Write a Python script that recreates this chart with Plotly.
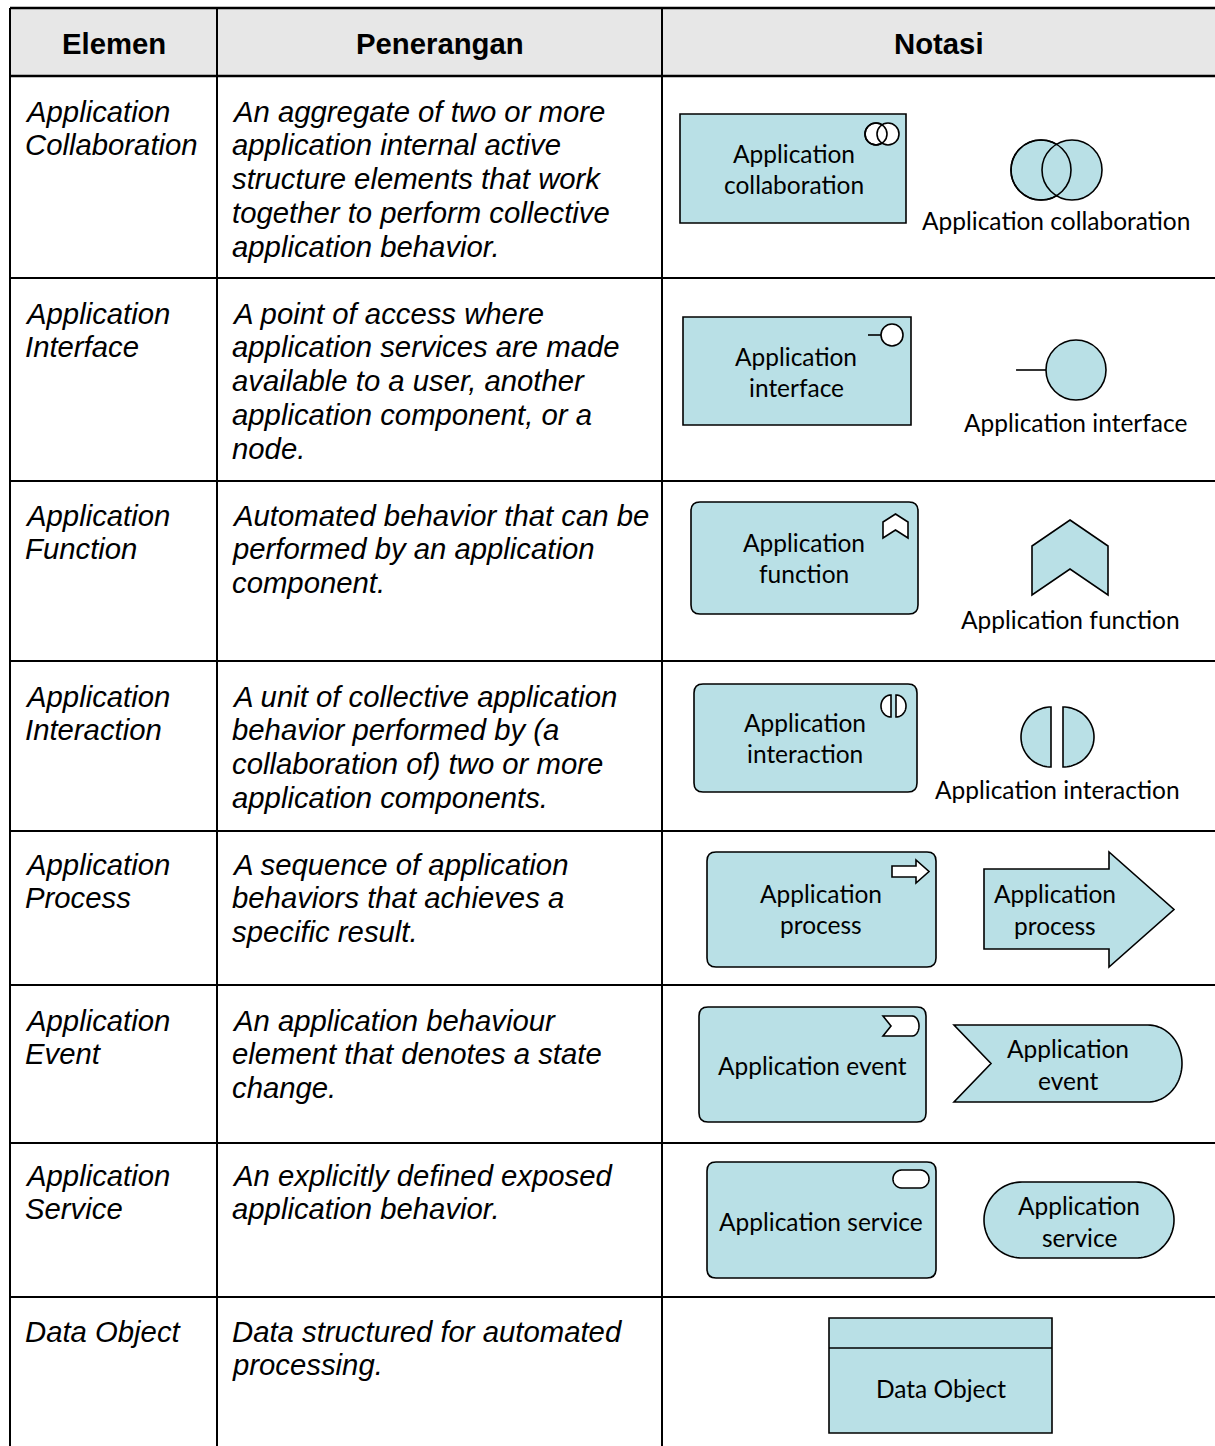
import numpy as np
import plotly.graph_objects as go

W, H = 1215, 1446

# ---------------- data (texts of the table) ----------------
HEADERS = ["Elemen", "Penerangan", "Notasi"]
ELEMENTS = [
    ["Application", "Collaboration"],
    ["Application", "Interface"],
    ["Application", "Function"],
    ["Application", "Interaction"],
    ["Application", "Process"],
    ["Application", "Event"],
    ["Application", "Service"],
    ["Data Object"],
]
DESCRIPTIONS = [
    ["An aggregate of two or more", "application internal active",
     "structure elements that work", "together to perform collective",
     "application behavior."],
    ["A point of access where", "application services are made",
     "available to a user, another", "application component, or a", "node."],
    ["Automated behavior that can be", "performed by an application", "component."],
    ["A unit of collective application", "behavior performed by (a",
     "collaboration of) two or more", "application components."],
    ["A sequence of application", "behaviors that achieves a", "specific result."],
    ["An application behaviour", "element that denotes a state", "change."],
    ["An explicitly defined exposed", "application behavior."],
    ["Data structured for automated", "processing."],
]
BOX_LABELS = [
    ["Application", "collaboration"],
    ["Application", "interface"],
    ["Application", "function"],
    ["Application", "interaction"],
    ["Application", "process"],
    ["Application event"],
    ["Application service"],
    ["Data Object"],
]
SYMBOL_LABELS = [
    ["Application collaboration"],
    ["Application interface"],
    ["Application function"],
    ["Application interaction"],
    ["Application", "process"],
    ["Application", "event"],
    ["Application", "service"],
]

# ---------------- layout constants ----------------
ROW_Y = [8, 76, 278, 481, 661, 831, 985, 1143, 1297]
COL_X = [10, 217, 662, W]
TEXT_TOP = [111, 313, 515, 696, 864, 1020, 1175, 1331]
LINE_H = 33.8
FILL = "#b9e0e6"
HEAD_BG = "#e7e7e7"
TABLE_FONT = "Liberation Sans, Arial, sans-serif"
NOTE_FONT = "Lato, Carlito, sans-serif"
TS = 29.3  # table font size

shapes = []
annotations = []


def fmt(pts):
    return "M " + " L ".join(f"{x:.2f},{y:.2f}" for x, y in pts) + " Z"


def poly(pts, fill=FILL, lw=1.6):
    shapes.append(dict(type="path", path=fmt(pts), xref="x", yref="y",
                       fillcolor=fill, line=dict(color="black", width=lw), layer="above"))


def arc(cx, cy, rx, ry, a0, a1, n=48):
    a = np.radians(np.linspace(a0, a1, n))
    return list(zip(cx + rx * np.cos(a), cy + ry * np.sin(a)))


def circle(cx, cy, r, fill=FILL, lw=1.6):
    shapes.append(dict(type="circle", xref="x", yref="y", x0=cx - r, x1=cx + r,
                       y0=cy - r, y1=cy + r, fillcolor=fill,
                       line=dict(color="black", width=lw), layer="above"))


def line(x0, y0, x1, y1, lw=1.6):
    shapes.append(dict(type="line", xref="x", yref="y", x0=x0, y0=y0, x1=x1, y1=y1,
                       line=dict(color="black", width=lw), layer="above"))


def rect(x0, y0, x1, y1, fill=FILL, lw=1.6):
    shapes.append(dict(type="rect", xref="x", yref="y", x0=x0, y0=y0, x1=x1, y1=y1,
                       fillcolor=fill, line=dict(color="black", width=lw), layer="above"))


def rrect(x0, y0, x1, y1, r=9, fill=FILL, lw=1.6):
    p = (f"M {x0 + r},{y0} L {x1 - r},{y0} Q {x1},{y0} {x1},{y0 + r} "
         f"L {x1},{y1 - r} Q {x1},{y1} {x1 - r},{y1} L {x0 + r},{y1} "
         f"Q {x0},{y1} {x0},{y1 - r} L {x0},{y0 + r} Q {x0},{y0} {x0 + r},{y0} Z")
    shapes.append(dict(type="path", path=p, xref="x", yref="y", fillcolor=fill,
                       line=dict(color="black", width=lw), layer="above"))


def pill(x0, y0, x1, y1, fill=FILL, lw=1.6):
    r = (y1 - y0) / 2
    cy = (y0 + y1) / 2
    pts = arc(x1 - r, cy, r, r, -90, 90) + arc(x0 + r, cy, r, r, 90, 270)
    poly(pts, fill, lw)


def text(x, y, s, size, family, xanchor="center", italic=False, bold=False):
    font = dict(family=family, size=size, color="black")
    if italic:
        font["style"] = "italic"
    if bold:
        font["weight"] = 700
    annotations.append(dict(x=x, y=y, xref="x", yref="y", text=s, showarrow=False,
                            xanchor=xanchor, yanchor="middle", font=font))


# ---------------- table ----------------
shapes.append(dict(type="rect", xref="x", yref="y", x0=COL_X[0], x1=W + 20,
                   y0=ROW_Y[0], y1=ROW_Y[1], fillcolor=HEAD_BG,
                   line=dict(width=0), layer="below"))
for i, y in enumerate(ROW_Y):
    lw = 2.6 if i < 2 else 2.0
    shapes.append(dict(type="line", xref="x", yref="y", x0=COL_X[0], x1=W + 20,
                       y0=y, y1=y, line=dict(color="black", width=lw)))
for x in COL_X[:3]:
    shapes.append(dict(type="line", xref="x", yref="y", x0=x, x1=x,
                       y0=ROW_Y[0], y1=H + 20, line=dict(color="black", width=2.0)))

for j, h in enumerate(HEADERS):
    text((COL_X[j] + COL_X[j + 1]) / 2, 43, h, TS, TABLE_FONT, bold=True)

for i in range(len(ELEMENTS)):
    for k, s in enumerate(ELEMENTS[i]):
        text(23, TEXT_TOP[i] + k * LINE_H, s, TS, TABLE_FONT, "left", italic=True)
    for k, s in enumerate(DESCRIPTIONS[i]):
        text(230, TEXT_TOP[i] + k * LINE_H, s, TS, TABLE_FONT, "left", italic=True)

# ---------------- notation symbols ----------------
NS = 24.5  # notation font size
WHITE = "white"

# Row 1: collaboration
rect(680, 114, 906, 223)
circle(876, 134, 11, WHITE)
circle(888, 134, 11, WHITE)
circle(876, 134, 11, "rgba(0,0,0,0)")
circle(1041, 170, 30)
circle(1072, 170, 30)
circle(1041, 170, 30, "rgba(0,0,0,0)")

# Row 2: interface
rect(683, 317, 911, 425)
line(868, 335, 881, 335)
circle(892, 335, 11, WHITE)
line(1016, 370, 1046, 370)
circle(1076, 370, 30)

# Row 3: function
rrect(691, 502, 918, 614)
poly([(895.5, 514), (908, 522), (908, 538), (895.5, 530), (883, 538), (883, 522)], WHITE)
poly([(1070, 520), (1108, 546), (1108, 595), (1070, 569), (1032, 595), (1032, 546)])

# Row 4: interaction
rrect(694, 684, 917, 792)
poly(arc(891, 706, 10, 11, -90, -270), WHITE)
poly(arc(896, 706, 10, 11, -90, 90), WHITE)
poly(arc(1051, 737, 30, 30, -90, -270))
poly(arc(1063, 737, 31, 30, -90, 90))

# Row 5: process
rrect(707, 852, 936, 967)
poly([(892, 866), (916, 866), (916, 860), (929, 871.5), (916, 883), (916, 877), (892, 877)], WHITE)
poly([(984, 869), (1109, 869), (1109, 852), (1174, 909.5), (1109, 967), (1109, 949), (984, 949)])

# Row 6: event
rrect(699, 1007, 926, 1122)
poly([(883, 1016), (912, 1016)] + arc(912, 1026, 7, 10, -90, 90) + [(883, 1036), (891, 1026)], WHITE)
poly([(954, 1025), (1148, 1025)] + arc(1148, 1063.5, 34, 38.5, -90, 90) +
     [(954, 1102), (991, 1063.5)])

# Row 7: service
rrect(707, 1162, 936, 1278)
pill(893, 1170, 929, 1188, WHITE)
pill(984, 1182, 1174, 1258)

# Row 8: data object
rect(829, 1318, 1052, 1433)
line(829, 1348, 1052, 1348)

# labels inside boxes
BOX_POS = [(794, 153), (796, 356), (804, 542), (805, 722), (821, 893),
           (812, 1065), (821, 1221), (941, 1388)]
for (x, y), labels in zip(BOX_POS, BOX_LABELS):
    for k, s in enumerate(labels):
        text(x, y + k * 31, s, NS, NOTE_FONT)

SYM_POS = [(1056, 220), (1075, 422), (1070, 619), (1057, 789), (1055, 893),
           (1068, 1048), (1079, 1205)]
for (x, y), labels in zip(SYM_POS, SYMBOL_LABELS):
    for k, s in enumerate(labels):
        text(x, y + k * 32, s, NS, NOTE_FONT)

fig = go.Figure()
fig.update_layout(
    width=W, height=H, margin=dict(l=0, r=0, t=0, b=0),
    paper_bgcolor="white", plot_bgcolor="white",
    xaxis=dict(range=[0, W], visible=False, fixedrange=True),
    yaxis=dict(range=[H, 0], visible=False, fixedrange=True),
    shapes=shapes, annotations=annotations, showlegend=False,
)
fig.write_html("out.html",
               config={"displayModeBar": False, "staticPlot": True},
               post_script="document.body.style.margin='0px';"
                           "document.body.style.overflow='hidden';")
